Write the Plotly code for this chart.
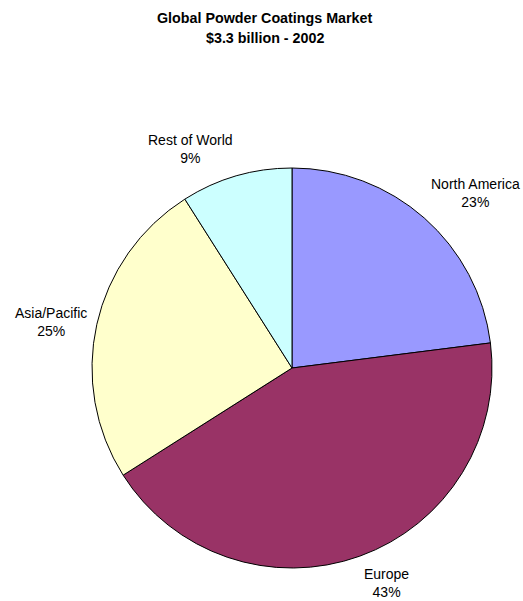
import math
import plotly.graph_objects as go

regions = ["North America", "Europe", "Asia/Pacific", "Rest of World"]
shares = [23, 43, 25, 9]
colors = ["#9999FF", "#993366", "#FFFFCC", "#CCFFFF"]
title_lines = ["Global Powder Coatings Market", "$3.3 billion - 2002"]

W, H = 523, 601
cx, cy, r = 292, 368, 200   # pie centre / radius in pixels
FONT = "Liberation Sans, Arial, sans-serif"
LBL = 14
GAP = 9


def px(sx):
    return sx / W


def py(sy):
    return 1 - sy / H


fig = go.Figure(go.Pie(
    labels=regions,
    values=shares,
    sort=False,
    direction="clockwise",
    rotation=0,
    marker=dict(colors=colors, line=dict(color="black", width=1)),
    textinfo="none",
    hoverinfo="label+percent",
    domain=dict(x=[px(cx - r), px(cx + r)], y=[py(cy + r), py(cy - r)]),
    showlegend=False,
    automargin=False,
))

annotations = []
for i, line in enumerate(title_lines):
    annotations.append(dict(
        text="<b>%s</b>" % line, x=px(265), y=py(18 + 20 * i),
        xref="paper", yref="paper", xanchor="center", yanchor="middle",
        showarrow=False, font=dict(size=14.3, family=FONT, color="black"),
    ))

# outside slice labels anchored just beyond the rim at each slice's mid-angle
total = sum(shares)
cum = 0
for name, v in zip(regions, shares):
    mid = (cum + v / 2) / total * 2 * math.pi
    cum += v
    ux, uy = math.sin(mid), -math.cos(mid)
    sx = cx + (r + GAP) * ux
    sy = cy + (r + GAP) * uy
    xa = "left" if ux > 0 else "right"
    ya = "bottom" if uy < -0.5 else ("top" if uy > 0.5 else "middle")
    pct = "%d%%" % round(100 * v / total)
    annotations.append(dict(
        text="%s<br>%s" % (name, pct), x=px(sx), y=py(sy),
        xref="paper", yref="paper", xanchor=xa, yanchor=ya, align="center",
        showarrow=False, borderpad=0,
        font=dict(size=LBL, family=FONT, color="black"),
    ))

fig.update_layout(
    width=W, height=H,
    margin=dict(l=0, r=0, t=0, b=0),
    paper_bgcolor="white",
    plot_bgcolor="white",
    font=dict(family=FONT, color="black"),
    annotations=annotations,
)

fig.write_html(
    "out.html",
    config={"displayModeBar": False},
    post_script="document.body.style.margin='0';document.body.style.overflow='hidden';",
)
